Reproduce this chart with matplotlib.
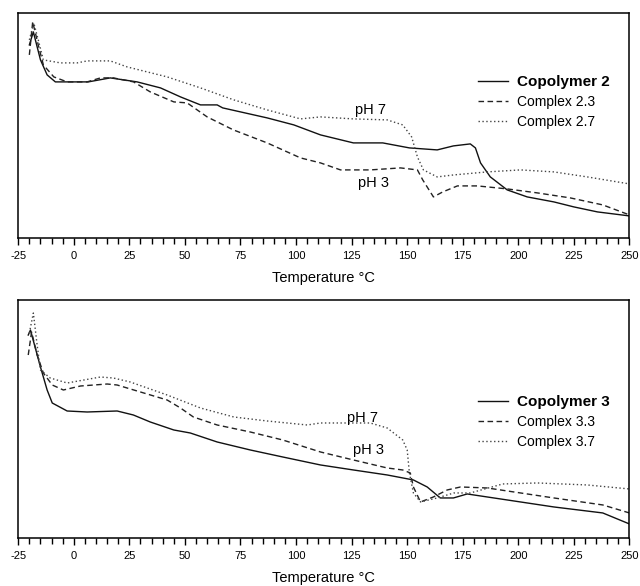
import numpy as np
import matplotlib
matplotlib.use("Agg")
import matplotlib.pyplot as plt
from matplotlib.ticker import MultipleLocator

plt.rcParams['font.family'] = ['Liberation Sans', 'DejaVu Sans']
plt.rcParams['axes.unicode_minus'] = False

# top panel: copolymer 2 and its complexes (heat flow, arbitrary units)
t_cop2 = [-20, -18.2, -15, -12, -8.3, 6.5, 16.4, 28.5, 39, 48, 57, 64.5, 67, 87, 99, 111,
          125.8, 139, 151, 163.5, 170.8, 178.4, 180.7, 183, 187.4, 195, 204, 216, 225, 235.6, 250]
hf_cop2 = [193, 206, 178, 163, 156, 156, 160, 156, 150, 141, 133, 133, 130, 120, 113, 103,
           95, 95, 90, 88, 92, 94, 90, 75, 61, 48, 41, 36, 31, 26, 22]

t_c23 = [-20, -18.5, -16, -13.7, -9, -3, 6, 12, 17.8, 26.9, 34.4, 45, 51, 60, 71.8, 87, 102, 111,
         120, 133.4, 147, 154.6, 157, 161.8, 166, 172.6, 181.6, 195, 208.6, 223.4, 238, 250]
hf_c23 = [183, 216, 193, 173, 161, 156, 156, 160, 160, 156, 146, 136, 135, 121, 108, 95, 80, 75,
          68, 68, 70, 68, 58, 41, 46, 52, 52, 49, 45, 40, 33, 23]

t_c27 = [-20, -18, -16, -13.7, -6, 1.5, 6, 16.4, 24, 42, 57, 72, 87, 102, 111,
         125.8, 141, 148, 152, 154.6, 157.3, 163.5, 171, 186, 201, 216, 231, 250]
hf_c27 = [198, 215, 198, 178, 175, 175, 177, 177, 171, 161, 150, 138, 128, 119, 121,
          119, 118, 113, 101, 81, 68, 61, 63, 66, 68, 66, 61, 54]

# bottom panel: copolymer 3 and its complexes
t_cop3 = [-20.5, -19.5, -15, -12, -9.7, -3, 6, 19.5, 26.8, 34.4, 45, 52.4, 64.5, 79.4, 94, 111,
          125.8, 141, 152.8, 159, 164.9, 170.8, 177, 186, 201, 216, 238, 250]
hf_cop3 = [203, 208, 171, 148, 135, 127, 126, 127, 123, 116, 108, 105, 96, 88, 81, 73,
           68, 63, 58, 51, 40, 40, 44, 41, 36, 31, 25, 14]

t_c33 = [-20.5, -19, -16.5, -13.7, -9.7, -4.7, 3, 15, 19.5, 30, 42, 48, 53.8, 64.5, 79.4, 94, 111,
         125.8, 141, 148, 151.4, 152.8, 156, 161.8, 168, 174, 186, 201, 216, 238, 250]
hf_c33 = [183, 206, 183, 165, 153, 148, 152, 154, 153, 146, 138, 130, 121, 113, 106, 98, 86,
          78, 70, 68, 65, 51, 36, 41, 48, 51, 50, 45, 40, 33, 25]

t_c37 = [-20, -18.2, -16.5, -15, -10.6, -3, 12, 17.8, 25.4, 42, 57, 72, 87, 105, 111,
         133.4, 141, 148, 150, 151, 152.8, 156, 163.5, 171, 178.4, 193, 208.6, 231, 250]
hf_c37 = [205, 225, 193, 168, 160, 155, 161, 160, 156, 143, 130, 121, 117, 113, 115,
          115, 110, 98, 88, 65, 45, 36, 40, 45, 45, 54, 55, 53, 49]

panels = [
    dict(rect=[0.0285, 0.594, 0.955, 0.384], ylim=(0, 225),
         series=[(t_cop2, hf_cop2, 'Copolymer 2'), (t_c23, hf_c23, 'Complex 2.3'), (t_c27, hf_c27, 'Complex 2.7')],
         ph7=(133.4, 128), ph3=(134.8, 55), leg_y=0.604),
    dict(rect=[0.0285, 0.082, 0.955, 0.406], ylim=(0, 238),
         series=[(t_cop3, hf_cop3, 'Copolymer 3'), (t_c33, hf_c33, 'Complex 3.3'), (t_c37, hf_c37, 'Complex 3.7')],
         ph7=(130, 120), ph3=(132.5, 88), leg_y=0.487),
]

styles = [dict(color='#111111', linestyle='-', linewidth=1.0),
          dict(color='#222222', linestyle=(0, (4, 2.5)), linewidth=1.0),
          dict(color='#444444', linestyle=(0, (1, 1.8)), linewidth=1.0)]

fig = plt.figure(figsize=(6.4, 5.86), dpi=100)

for p in panels:
    ax = fig.add_axes(p['rect'])
    for (t, hf, lab), st in zip(p['series'], styles):
        ax.plot(t, hf, label=lab, **st)
    ax.set_xlim(-25, 250)
    ax.set_ylim(*p['ylim'])
    ax.xaxis.set_major_locator(MultipleLocator(25))
    ax.xaxis.set_minor_locator(MultipleLocator(5))
    ax.tick_params(axis='x', which='major', direction='out', length=5, width=1, labelsize=8, pad=4.5)
    ax.tick_params(axis='x', which='minor', direction='out', length=4, width=1)
    ax.set_yticks([])
    for s in ax.spines.values():
        s.set_linewidth(1.1)
    ax.set_xlabel('Temperature °C', fontsize=10.5, labelpad=7)
    ax.text(p['ph7'][0], p['ph7'][1], 'pH 7', fontsize=10.5, ha='center', va='center')
    ax.text(p['ph3'][0], p['ph3'][1], 'pH 3', fontsize=10.5, ha='center', va='center')
    leg = ax.legend(loc='center left', bbox_to_anchor=(0.753, p['leg_y']), frameon=False,
                    fontsize=10, handlelength=2.15, handletextpad=0.65, labelspacing=0.45,
                    borderpad=0, borderaxespad=0)
    leg.get_texts()[0].set_fontweight('bold')
    leg.get_texts()[0].set_fontsize(11)

fig.savefig('out.png', dpi=100)
